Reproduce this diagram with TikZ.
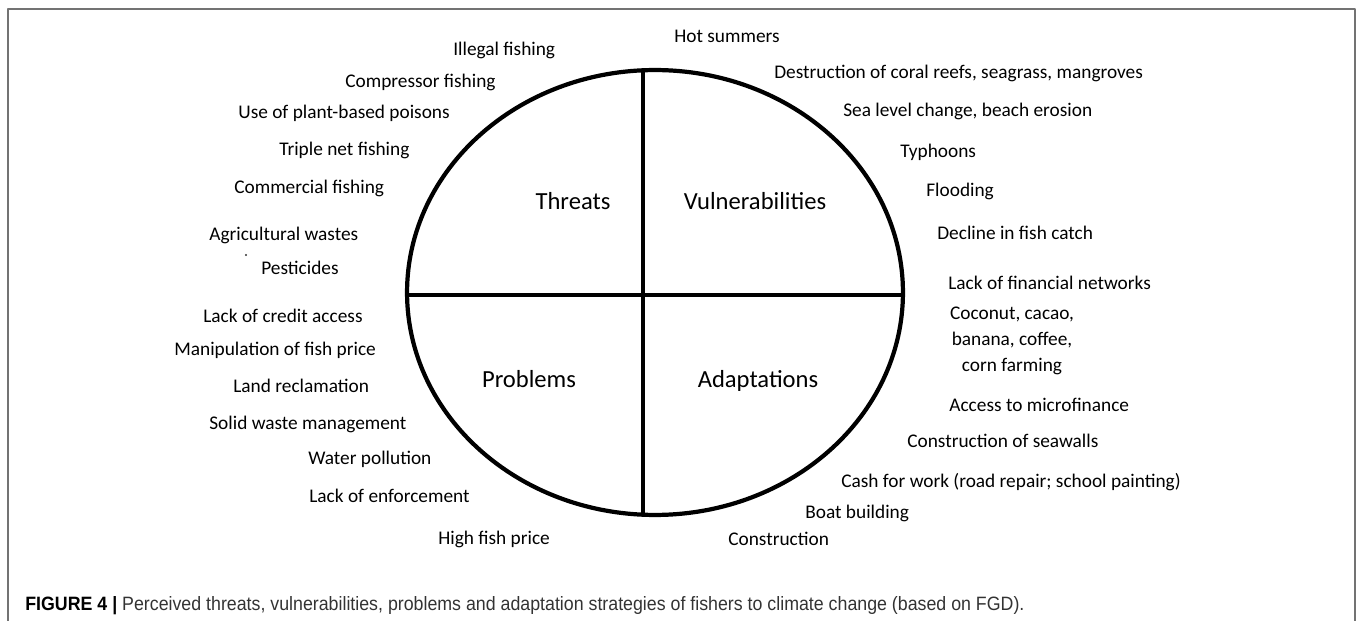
\documentclass[tikz,border=0pt]{standalone}
\usepackage{fontspec}
\setmainfont{Carlito}
\newfontfamily\capfont{Liberation Sans}[FakeStretch=0.92]
\usetikzlibrary{positioning}

\begin{document}
\begin{tikzpicture}[x=0.02cm,y=-0.02cm,line join=round]
  \tikzstyle{item}=[font=\fontsize{11}{14.7}\selectfont,inner sep=0pt,anchor=base west,text=black]
  \tikzstyle{quad}=[font=\fontsize{14}{17}\selectfont,inner sep=0pt,anchor=base,text=black]
  \tikzstyle{bar}=[line width=2.4pt]

  \useasboundingbox (0,0) rectangle (1357,621);
  \draw[black!55,line width=1.1pt] (8,621) -- (8,9) -- (1355,9) -- (1355,621);

  % the wheel
  \draw[bar] (655,292.5) ellipse [x radius=4.96cm, y radius=4.45cm];
  \coordinate (top)   at (643,70.3);
  \coordinate (foot)  at (643,514.7);
  \coordinate (west)  at (407,295);
  \coordinate (east)  at (903,295);
  \draw[bar] (top) -- (foot);
  \draw[bar] (west) -- (east);

  \node[quad] (threats)  at (573,210) {Threats};
  \node[quad] (vulner)   at (755,210) {Vulnerabilities};
  \node[quad] (problems) at (529,388) {Problems};
  \node[quad] (adapt)    at (758,388) {Adaptations};

  % threats
  \node[item] (illegal)  at (453,56)  {Illegal fishing};
  \node[item] (compr)    at (345,88)  {Compressor fishing};
  \node[item] (poison)   at (238,119) {Use of plant-based poisons};
  \node[item] (triple)   at (279,156) {Triple net fishing};
  \node[item] (commerc)  at (234,194) {Commercial fishing};
  \node[item] (agri)     at (209,241) {Agricultural wastes};
  \fill[black!80] (246,255) circle (0.7pt);
  \node[item] (pest)     at (261,275) {Pesticides};

  % vulnerabilities
  \node[item] (hot)      at (674,43)  {Hot summers};
  \node[item] (coral)    at (774,79)  {Destruction of coral reefs, seagrass, mangroves};
  \node[item] (sea)      at (843,117) {Sea level change, beach erosion};
  \node[item] (typhoon)  at (900,158) {Typhoons};
  \node[item] (flood)    at (926,197) {Flooding};
  \node[item] (decline)  at (937,240) {Decline in fish catch};
  \node[item] (finnet)   at (948,290) {Lack of financial networks};

  % problems
  \node[item] (credit)   at (203,323) {Lack of credit access};
  \node[item] (manip)    at (174,356) {Manipulation of fish price};
  \node[item] (land)     at (233,393) {Land reclamation};
  \node[item] (solid)    at (209,430) {Solid waste management};
  \node[item] (water)    at (308,465) {Water pollution};
  \node[item] (enforce)  at (309,503) {Lack of enforcement};
  \node[item] (high)     at (438,545) {High fish price};

  % adaptations
  \node[item,anchor=center,align=center] (farm) at (1012,341)
       {Coconut, cacao,\\banana, coffee,\\corn farming};
  \node[item] (micro)    at (949,412) {Access to microfinance};
  \node[item] (seawall)  at (907,448) {Construction of seawalls};
  \node[item] (cash)     at (841,488) {Cash for work (road repair; school painting)};
  \node[item] (boat)     at (805,519) {Boat building};
  \node[item] (constr)   at (728,546) {Construction};

  \node[anchor=base west,inner sep=0pt,font=\capfont\fontsize{11}{13}\selectfont,text=black!80]
       (caption) at (25,611)
       {\textcolor{black}{\textbf{FIGURE 4 |}} Perceived threats, vulnerabilities, problems and adaptation strategies of fishers to climate change (based on FGD).};
\end{tikzpicture}
\end{document}
